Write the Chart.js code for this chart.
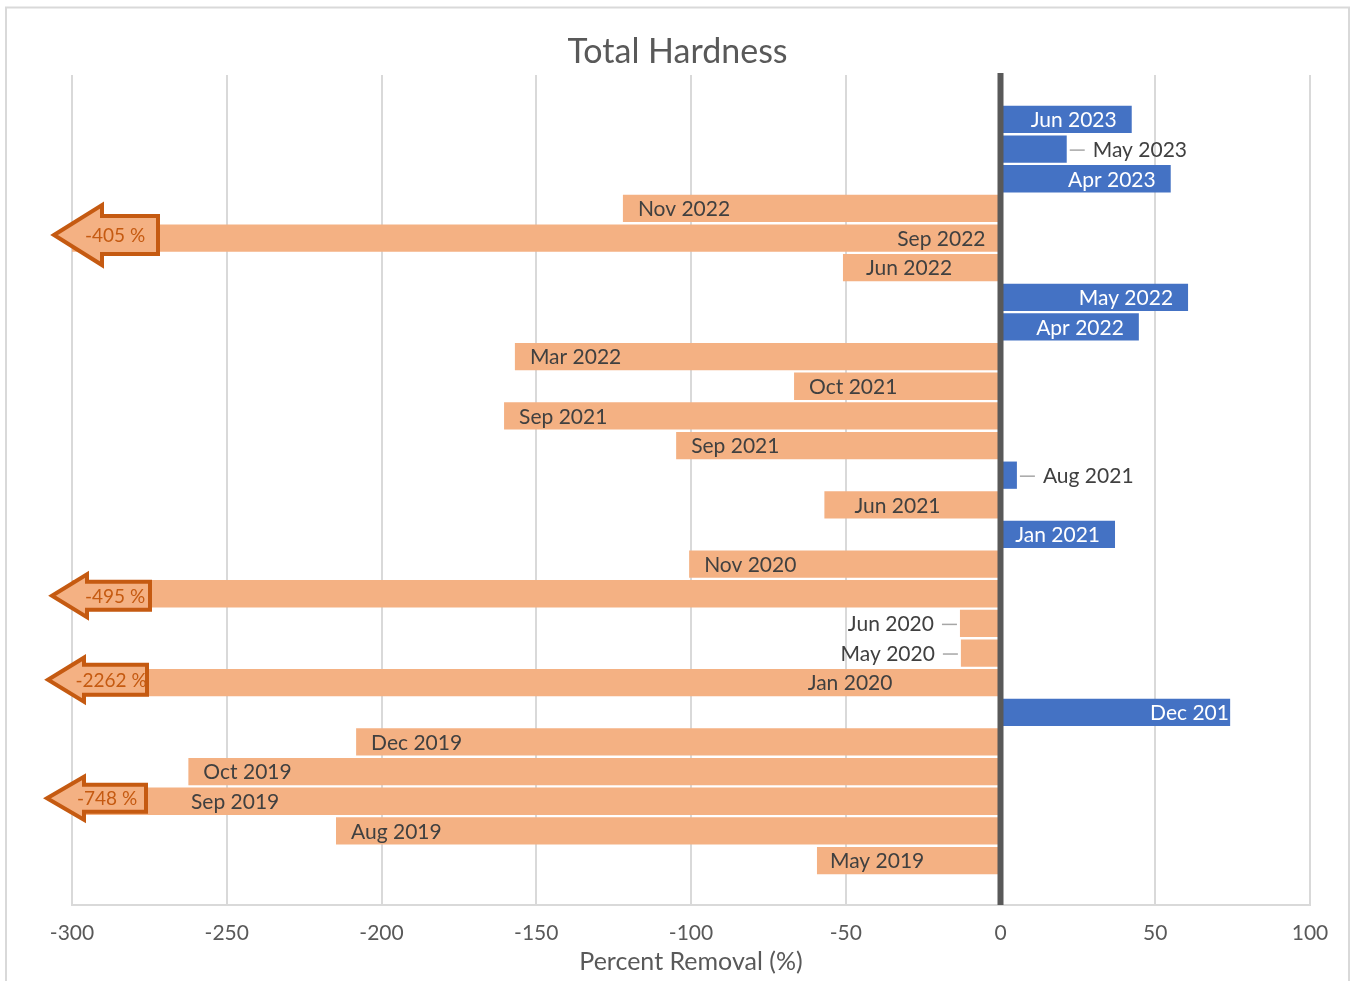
<!DOCTYPE html>
<html>
<head>
<meta charset="utf-8">
<title>Total Hardness</title>
<script src="https://cdn.jsdelivr.net/npm/chart.js@4"></script>
<style>
  html, body { margin: 0; padding: 0; background: #fff; }
  #wrap { width: 1355px; height: 981px; }
</style>
</head>
<body>
<div id="wrap"><canvas id="hardness" width="1355" height="981"></canvas></div>
<script>
// ---------- data (top row first) ----------
const categories = [
  "Jun 2023", "May 2023", "Apr 2023", "Nov 2022", "Sep 2022", "Jun 2022",
  "May 2022", "Apr 2022", "Mar 2022", "Oct 2021", "Sep 2021", "Sep 2021",
  "Aug 2021", "Jun 2021", "Jan 2021", "Nov 2020", "", "Jun 2020",
  "May 2020", "Jan 2020", "Dec 2019", "Dec 2019", "Oct 2019", "Sep 2019",
  "Aug 2019", "May 2019"
];
const removal = [
  42.4, 21.4, 55.0, -122.0, -405, -50.9,
  60.6, 44.7, -156.9, -66.7, -160.4, -104.8,
  5.3, -56.9, 37.0, -100.6, -495, -13.1,
  -12.8, -2262, 74.2, -208.2, -262.4, -748,
  -214.7, -59.3
];
const xMin = -300;
const xMax = 100;
const xStep = 50;

// ---------- label placement (style only) ----------
// end = inside end, base = inside base, out = outside with leader, at = centred on a value, clip = cut by bar
const labelMode = [
  "end", "out", "end", "end", "base", "end",
  "end", "end", "end", "end", "end", "end",
  "out", "end", "end", "end", "none", "out",
  "out", "at", "clip", "end", "end", "at",
  "end", "end"
];
const labelAt = { 19: -48.6, 23: -247.3 };
const labelNudge = { 5: 8, 13: 15, 25: -2 }; // px, hand-placed labels in the original

// arrow callouts for bars that run past the axis minimum (px, relative to plot left)
const calloutShape = [
  { tip: -18, neck: 30, end: 86, head: 30, body: 19, dy: -3, tx: 43 },
  { tip: -20, neck: 15, end: 78, head: 21.5, body: 14, dy: 2, tx: 43 },
  { tip: -24, neck: 12, end: 75, head: 22, body: 15, dy: -3, tx: 39 },
  { tip: -25, neck: 12, end: 74, head: 21.5, body: 13.5, dy: -3, tx: 35 }
];

const BLUE = "#4472C4";
const ORANGE = "#F4B183";
const DARK_ORANGE = "#C55A11";
const GRID = "#d9d9d9";
const TEXT = "#595959";
const FONT = "Lato, 'Noto Sans', sans-serif";

// padded with an empty slot at each end, like the original plot
const chartLabels = ["", ...categories, ""];
const chartValues = [null, ...removal, null];

const frame = {
  id: "frame",
  beforeDraw(chart) {
    const c = chart.ctx;
    c.save();
    c.fillStyle = "#fff";
    c.fillRect(0, 0, chart.width, chart.height);
    c.strokeStyle = GRID;
    c.lineWidth = 2;
    c.strokeRect(6, 7.5, 1343, 1000);
    // chart title, centred on the whole canvas
    c.fillStyle = TEXT;
    c.font = "34px " + FONT;
    c.textAlign = "center";
    c.textBaseline = "middle";
    c.fillText("Total Hardness", chart.width / 2, 52);
    c.restore();
  }
};

const overlay = {
  id: "overlay",
  afterDatasetsDraw(chart) {
    const c = chart.ctx;
    const area = chart.chartArea;
    const xs = chart.scales.x;
    const meta = chart.getDatasetMeta(0);
    const zero = xs.getPixelForValue(0);

    // vertical axis at zero
    c.save();
    c.strokeStyle = TEXT;
    c.lineWidth = 6;
    c.beginPath();
    c.moveTo(zero, area.top - 2);
    c.lineTo(zero, area.bottom);
    c.stroke();
    c.restore();

    // data labels
    c.save();
    c.font = "21px " + FONT;
    c.textBaseline = "middle";
    categories.forEach((name, i) => {
      const bar = meta.data[i + 1];
      const v = removal[i];
      const mode = labelMode[i];
      if (!bar || mode === "none") return;
      const y = bar.y + 1;
      const endX = Math.max(bar.x, area.left);
      const nudge = labelNudge[i] || 0;
      const neg = v < 0;
      if (mode === "end") {
        if (neg) {
          c.fillStyle = "#404040";
          c.textAlign = "left";
          c.fillText(name, endX + 15 + nudge, y);
        } else {
          c.fillStyle = "#fff";
          c.textAlign = "right";
          c.fillText(name, endX - 15 + nudge, y);
        }
      } else if (mode === "base") {
        c.fillStyle = "#404040";
        c.textAlign = "right";
        c.fillText(name, zero - 15, y);
      } else if (mode === "at") {
        c.fillStyle = "#404040";
        c.textAlign = "center";
        c.fillText(name, xs.getPixelForValue(labelAt[i]), y);
      } else if (mode === "out") {
        const dir = neg ? -1 : 1;
        c.strokeStyle = "#a6a6a6";
        c.lineWidth = 1.5;
        c.beginPath();
        c.moveTo(endX + dir * 3, y);
        c.lineTo(endX + dir * 18, y);
        c.stroke();
        c.fillStyle = "#404040";
        c.textAlign = neg ? "right" : "left";
        c.fillText(name, endX + dir * 26, y);
      } else if (mode === "clip") {
        c.save();
        const top = bar.y - bar.height / 2;
        c.beginPath();
        c.rect(zero, top, endX - zero, bar.height);
        c.clip();
        c.fillStyle = "#fff";
        c.textAlign = "right";
        c.fillText(name, endX + 11, y);
        c.restore();
      }
    });
    c.restore();

    // arrow callouts for bars beyond the axis minimum
    let k = 0;
    c.save();
    removal.forEach((v, i) => {
      if (v >= xMin) return;
      const s = calloutShape[k++] || calloutShape[1];
      const bar = meta.data[i + 1];
      const cy = bar.y + s.dy;
      const L = area.left;
      c.beginPath();
      c.moveTo(L + s.tip, cy);
      c.lineTo(L + s.neck, cy - s.head);
      c.lineTo(L + s.neck, cy - s.body);
      c.lineTo(L + s.end, cy - s.body);
      c.lineTo(L + s.end, cy + s.body);
      c.lineTo(L + s.neck, cy + s.body);
      c.lineTo(L + s.neck, cy + s.head);
      c.closePath();
      c.fillStyle = ORANGE;
      c.fill();
      c.lineWidth = 4;
      c.lineJoin = "miter";
      c.strokeStyle = DARK_ORANGE;
      c.stroke();
      c.fillStyle = DARK_ORANGE;
      c.font = "19px " + FONT;
      c.textAlign = "center";
      c.textBaseline = "middle";
      c.fillText(v + " %", L + s.tx, cy + 1);
    });
    c.restore();
  }
};

new Chart(document.getElementById("hardness").getContext("2d"), {
  type: "bar",
  data: {
    labels: chartLabels,
    datasets: [{
      data: chartValues,
      backgroundColor: (ctx) => (ctx.raw < 0 ? ORANGE : BLUE),
      borderWidth: 0,
      barPercentage: 0.92,
      categoryPercentage: 1
    }]
  },
  options: {
    indexAxis: "y",
    responsive: false,
    animation: false,
    layout: { padding: { left: 72, right: 45, top: 75, bottom: 0 } },
    plugins: {
      legend: { display: false },
      tooltip: { enabled: false },
      title: { display: false }
    },
    scales: {
      x: {
        min: xMin,
        max: xMax,
        afterFit: (scale) => { scale.height = 76; },
        ticks: {
          stepSize: xStep,
          color: TEXT,
          padding: 16,
          font: { family: FONT, size: 21, lineHeight: 1.2 }
        },
        grid: { color: GRID, lineWidth: 2, drawTicks: false },
        border: { color: GRID, width: 2 },
        title: {
          display: true,
          text: "Percent Removal (%)",
          color: TEXT,
          font: { family: FONT, size: 25, lineHeight: 1.2 },
          padding: { top: 3, bottom: 4 }
        }
      },
      y: { display: false }
    }
  },
  plugins: [frame, overlay]
});
</script>
</body>
</html>
